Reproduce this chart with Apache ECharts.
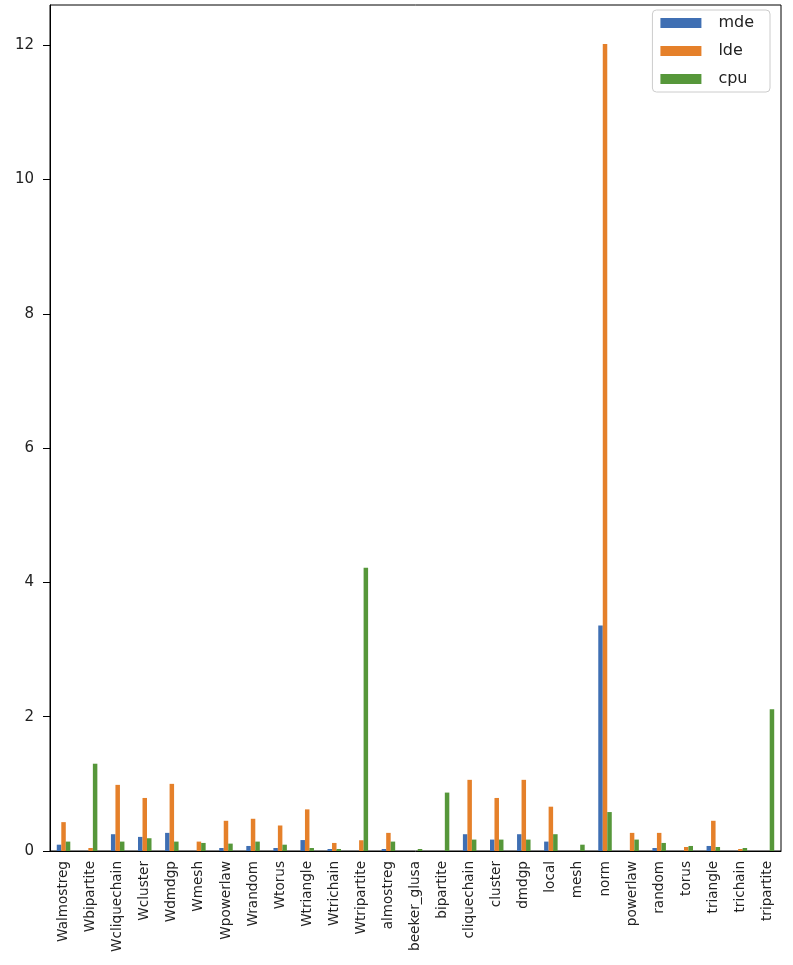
<!DOCTYPE html>
<html><head><meta charset="utf-8">
<script src="https://cdn.jsdelivr.net/npm/echarts@6/dist/echarts.min.js"></script>
<style>html,body{margin:0;padding:0;background:#fff}#c{width:793px;height:965px}</style>
</head><body><div id="c"></div>
<script>
const categories = ["Walmostreg","Wbipartite","Wcliquechain","Wcluster","Wdmdgp","Wmesh","Wpowerlaw","Wrandom","Wtorus","Wtriangle","Wtrichain","Wtripartite","almostreg","beeker_glusa","bipartite","cliquechain","cluster","dmdgp","local","mesh","norm","powerlaw","random","torus","triangle","trichain","tripartite"];
const mde = [0.094,0,0.25,0.21,0.27,0,0.045,0.075,0.045,0.163,0.03,0,0.03,0,0,0.25,0.17,0.25,0.14,0,3.36,0,0.045,0,0.075,0,0];
const lde = [0.43,0.045,0.985,0.79,1.0,0.14,0.45,0.48,0.38,0.62,0.12,0.16,0.27,0,0,1.06,0.79,1.06,0.66,0,12.02,0.27,0.27,0.06,0.45,0.03,0];
const cpu = [0.14,1.30,0.14,0.19,0.14,0.12,0.11,0.14,0.094,0.045,0.03,4.22,0.14,0.03,0.87,0.17,0.17,0.17,0.25,0.094,0.58,0.17,0.12,0.075,0.06,0.045,2.11];
const yTicks = [0,2,4,6,8,10,12];
const seriesNames = ["mde","lde","cpu"];
const colors = ["#3f6fb3","#e5802a","#56973a"];

const chart = echarts.init(document.getElementById('c'));
const font = "DejaVu Sans";
const mk = (name, data, i) => ({name, type:'bar', data, barWidth:4.5, barGap:'0%', itemStyle:{color:colors[i]}});
chart.setOption({
  animation:false,
  textStyle:{fontFamily:font},
  grid:{left:50,right:12,top:5,bottom:114,show:true,borderColor:'#000',borderWidth:1,backgroundColor:'transparent'},
  legend:{
    right:23, top:10, orient:'vertical', itemWidth:41, itemHeight:10, itemGap:12,
    borderColor:'#ccc', borderWidth:1, borderRadius:4, padding:[5,16,5,8],
    textStyle:{fontSize:16,color:'#222',fontFamily:font, padding:[0,0,0,12]},
    icon:'rect', data:seriesNames
  },
  xAxis:{
    type:'category', data:categories,
    axisLine:{lineStyle:{color:'#000'}},
    axisTick:{alignWithLabel:true,length:6,lineStyle:{color:'#000'}},
    axisLabel:{rotate:90,interval:0,fontSize:13.6,color:'#222',fontFamily:font,margin:10}
  },
  yAxis:{
    type:'value', min:0, max:12.6, interval:2,
    splitLine:{show:false},
    axisLine:{show:true,lineStyle:{color:'#000'}},
    axisTick:{show:true,length:7,lineStyle:{color:'#000'},customValues:yTicks},
    axisLabel:{fontSize:15,color:'#222',fontFamily:font,margin:16,customValues:yTicks,
      formatter:v => yTicks.includes(v) ? String(v) : ''}
  },
  series:[mk("mde",mde,0),mk("lde",lde,1),mk("cpu",cpu,2)]
});
</script></body></html>
